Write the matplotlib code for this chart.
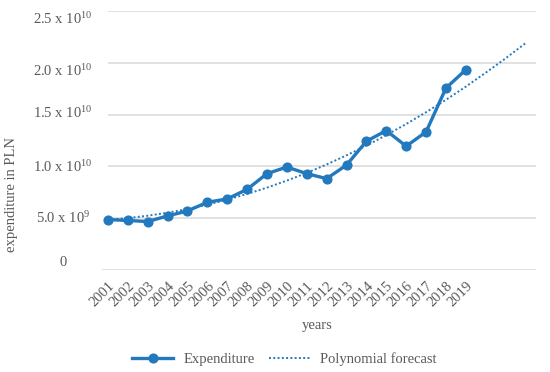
import matplotlib
matplotlib.use("Agg")
import matplotlib.pyplot as plt
from matplotlib.lines import Line2D

plt.rcParams['font.family'] = ['Liberation Serif', 'DejaVu Serif']
plt.rcParams['mathtext.default'] = 'regular'

years = ['2001', '2002', '2003', '2004', '2005', '2006', '2007', '2008', '2009', '2010',
         '2011', '2012', '2013', '2014', '2015', '2016', '2017', '2018', '2019']
expenditure = [4.87e9, 4.78e9, 4.68e9, 5.22e9, 5.70e9, 6.54e9, 6.86e9, 7.79e9, 9.30e9, 9.94e9,
               9.30e9, 8.82e9, 10.13e9, 12.43e9, 13.46e9, 11.95e9, 13.33e9, 17.56e9, 19.33e9]
# polynomial forecast (trend) values, periods 1..22
forecast = [4.85e9, 5.01e9, 5.24e9, 5.53e9, 5.89e9, 6.31e9, 6.79e9, 7.34e9, 7.95e9, 8.63e9,
            9.37e9, 10.19e9, 11.07e9, 12.01e9, 13.02e9, 14.09e9, 15.23e9, 16.43e9, 17.70e9,
            19.04e9, 20.43e9, 21.89e9]
ytick_vals = [0, 5e9, 1e10, 1.5e10, 2e10, 2.5e10]
ytick_labels = ['0', '5.0 x 10$^{9}$', '1.0 x 10$^{10}$', '1.5 x 10$^{10}$',
                '2.0 x 10$^{10}$', '2.5 x 10$^{10}$']

blue = '#2279BE'
grey = '#595959'
fs = 10.5

fig = plt.figure(figsize=(5.5, 3.72), dpi=100)
W, H = 550, 372
L, R, T, B = 102, 536, 11, 270
ax = fig.add_axes([L / W, 1 - B / H, (R - L) / W, (B - T) / H])

x_data = list(range(1, len(expenditure) + 1))
x_fc = list(range(1, len(forecast) + 1))

ax.set_xlim(0.7, 22.53)
ax.set_ylim(0, 2.5e10)

for v in ytick_vals[1:]:
    ax.plot([1, 22.53], [v, v], color='#d9d9d9', lw=1.1, zorder=0, solid_capstyle='butt')
ax.axhline(0, color='#d9d9d9', lw=1.1, zorder=0)

ax.plot(x_fc, forecast, color=blue, lw=1.4, linestyle=(0, (1, 1.2)), zorder=2)
ax.plot(x_data, expenditure, color=blue, lw=2.4, marker='o', markersize=6.3, zorder=3)

for s in ax.spines.values():
    s.set_visible(False)

# y tick labels: in the original they sit slightly off the gridlines
ax.set_yticks([])
label_y_px = [263, 218, 167, 113, 71, 19]
for lab, ypx in zip(ytick_labels, label_y_px):
    fig.text(63 / W, 1 - ypx / H, lab, ha='center', va='center', color=grey, fontsize=fs)

ax.set_xticks(x_data)
ax.set_xticklabels(years, rotation=45, ha='right', va='top', rotation_mode='anchor')
ax.tick_params(axis='x', length=0, pad=7, labelcolor=grey, labelsize=fs)

fig.text(12 / W, 1 - 195 / H, 'expenditure in PLN', rotation=90, ha='center', va='center',
         color=grey, fontsize=fs)
fig.text(317 / W, 1 - 325 / H, 'years', ha='center', va='center', color=grey, fontsize=fs)

handles = [Line2D([], [], color=blue, lw=2.4, marker='o', markersize=6.3),
           Line2D([], [], color=blue, lw=1.4, linestyle=(0, (1, 1.2)))]
leg = fig.legend(handles, ['Expenditure', 'Polynomial forecast'], loc='center',
                 bbox_to_anchor=(284.5 / W, 1 - 359 / H), ncol=2, frameon=False,
                 fontsize=fs, handlelength=2.8, columnspacing=1.0, handletextpad=0.7)
for t in leg.get_texts():
    t.set_color(grey)

fig.savefig('out.png', dpi=100)
